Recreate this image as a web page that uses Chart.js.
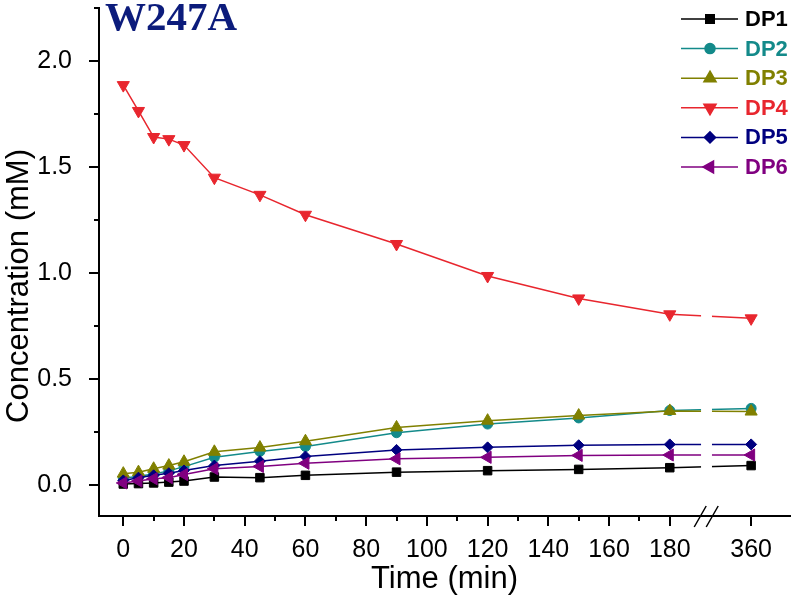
<!DOCTYPE html>
<html>
<head>
<meta charset="utf-8">
<title>W247A</title>
<script src="https://cdn.jsdelivr.net/npm/chart.js"></script>
<style>
  html, body { margin: 0; padding: 0; background: #fff; }
  canvas { display: block; }
</style>
</head>
<body>
<canvas id="chart" width="798" height="609"></canvas>
<script>
// sampling times (min)
const timeMin = [0, 5, 10, 15, 20, 30, 45, 60, 90, 120, 150, 180, 360];

// concentrations (mM)
const dp1 = [0.003, 0.005, 0.008, 0.012, 0.017, 0.036, 0.033, 0.044, 0.059, 0.066, 0.072, 0.080, 0.090];
const dp2 = [0.030, 0.040, 0.050, 0.065, 0.085, 0.129, 0.157, 0.180, 0.245, 0.286, 0.315, 0.350, 0.360];
const dp3 = [0.052, 0.059, 0.075, 0.090, 0.108, 0.155, 0.175, 0.205, 0.270, 0.302, 0.326, 0.348, 0.345];
const dp4 = [1.886, 1.764, 1.641, 1.631, 1.603, 1.449, 1.368, 1.274, 1.136, 0.985, 0.879, 0.804, 0.785];
const dp5 = [0.020, 0.033, 0.044, 0.054, 0.067, 0.090, 0.111, 0.133, 0.164, 0.176, 0.186, 0.190, 0.190];
const dp6 = [0.008, 0.017, 0.028, 0.033, 0.048, 0.075, 0.086, 0.101, 0.122, 0.129, 0.138, 0.140, 0.140];

const seriesNames = ['DP1', 'DP2', 'DP3', 'DP4', 'DP5', 'DP6'];
const seriesValues = [dp1, dp2, dp3, dp4, dp5, dp6];
const seriesColors = ['#000000', '#138a8a', '#808000', '#e8262e', '#00007f', '#800080'];
const markerStyles = ['rect', 'circle', 'triangle', 'triangle', 'rectRot', 'triangle'];
const markerRotation = [0, 0, 0, 180, 0, -90];
const markerRadius = [6, 5, 7, 7, 5.5, 7];

const xTickLabels = [0, 20, 40, 60, 80, 100, 120, 140, 160, 180, 360];
const yTickLabels = [0, 0.5, 1.0, 1.5, 2.0];

// the time axis is broken after 180 min, 360 sits just past the break
const BREAK_AT = 180;
const AFTER_BREAK = 26.8 / 180;
function axisX(t) {
    return t <= BREAK_AT ? t : BREAK_AT + (t - BREAK_AT) * AFTER_BREAK;
}

const FONT = '"Liberation Sans", Arial, sans-serif';

const decor = {
    id: 'decor',
    afterDatasetsDraw(chart) {
        // gap in the curves where the axis is broken
        const {ctx, chartArea, scales: {x}} = chart;
        const a = x.getPixelForValue(190.3);
        const b = x.getPixelForValue(193.9);
        ctx.save();
        ctx.fillStyle = '#fff';
        ctx.fillRect(a, chartArea.top, b - a, chartArea.bottom - chartArea.top - 2);
        ctx.restore();
    },
    afterDraw(chart) {
        const {ctx, chartArea, scales: {x, y}} = chart;
        ctx.save();
        ctx.strokeStyle = '#000';
        ctx.lineWidth = 2;
        ctx.beginPath();
        // x ticks, major every 20, minor every 10
        for (let k = 0; k <= 18; k++) {
            const px = Math.round(x.getPixelForValue(k * 10));
            const len = k % 2 === 0 ? 10 : 5;
            ctx.moveTo(px, chartArea.bottom);
            ctx.lineTo(px, chartArea.bottom + len);
        }
        const p360 = Math.round(x.getPixelForValue(axisX(360)));
        ctx.moveTo(p360, chartArea.bottom);
        ctx.lineTo(p360, chartArea.bottom + 10);
        // y ticks, major every 0.5, minor every 0.25
        for (let k = 0; k <= 9; k++) {
            const py = Math.round(y.getPixelForValue(k * 0.25));
            const len = k % 2 === 0 ? 10 : 5;
            ctx.moveTo(chartArea.left, py);
            ctx.lineTo(chartArea.left - len, py);
        }
        ctx.stroke();

        // break marks
        ctx.lineWidth = 1.5;
        ctx.beginPath();
        const bx = x.getPixelForValue(192);
        [-6, 6].forEach(d => {
            ctx.moveTo(bx + d - 6, chartArea.bottom + 11);
            ctx.lineTo(bx + d + 6, chartArea.bottom - 10);
        });
        ctx.stroke();

        // axis titles
        ctx.fillStyle = '#000';
        ctx.font = '31px ' + FONT;
        ctx.textAlign = 'center';
        ctx.textBaseline = 'middle';
        ctx.fillText('Time (min)', (chartArea.left + chartArea.right) / 2, 579);
        ctx.save();
        ctx.translate(19, 286);
        ctx.rotate(-Math.PI / 2);
        ctx.fillText('Concentration (mM)', 0, 0);
        ctx.restore();

        // panel label
        ctx.font = 'bold 41px "Liberation Serif", "Times New Roman", serif';
        ctx.fillStyle = '#0c1c7c';
        ctx.textAlign = 'left';
        ctx.textBaseline = 'alphabetic';
        ctx.fillText('W247A', 105, 30);

        // legend
        ctx.font = 'bold 22px ' + FONT;
        ctx.textBaseline = 'middle';
        seriesNames.forEach((name, i) => {
            const ly = 19 + i * 29.6;
            const c = seriesColors[i];
            ctx.strokeStyle = c;
            ctx.fillStyle = c;
            ctx.lineWidth = 1.5;
            ctx.beginPath();
            ctx.moveTo(681, ly);
            ctx.lineTo(738, ly);
            ctx.stroke();
            Chart.helpers.drawPoint(ctx, {
                pointStyle: markerStyles[i],
                radius: markerRadius[i],
                rotation: markerRotation[i],
                borderWidth: 1
            }, 710, ly);
            ctx.fillStyle = c;
            ctx.fillText(name, 745, ly + 1);
        });
        ctx.restore();
    }
};

const datasets = seriesNames.map((name, i) => ({
    label: name,
    data: seriesValues[i].map((v, j) => ({x: axisX(timeMin[j]), y: v})),
    borderColor: seriesColors[i],
    backgroundColor: seriesColors[i],
    borderWidth: 1.5,
    pointStyle: markerStyles[i],
    pointRotation: markerRotation[i],
    pointRadius: markerRadius[i],
    pointBorderWidth: 1,
    tension: 0,
    order: seriesNames.length - i
}));

new Chart(
    document.getElementById('chart'),
    {
        type: 'line',
        data: {datasets: datasets},
        options: {
            responsive: false,
            animation: false,
            layout: {padding: {top: 4, right: 1, left: 0, bottom: 0}},
            plugins: {
                legend: {display: false},
                tooltip: {enabled: false}
            },
            scales: {
                x: {
                    type: 'linear',
                    min: -8,
                    max: 219.6,
                    grid: {display: false},
                    border: {display: true, color: '#000', width: 2},
                    afterFit: scale => {
                        scale.height = 93;
                        scale.paddingLeft = 0;
                        scale.paddingRight = 0;
                    },
                    afterBuildTicks: scale => {
                        scale.ticks = xTickLabels.map(t => ({value: axisX(t)}));
                    },
                    ticks: {
                        autoSkip: false,
                        maxRotation: 0,
                        padding: 11,
                        color: '#000',
                        font: {family: FONT, size: 25},
                        callback: (value, index) => String(xTickLabels[index])
                    }
                },
                y: {
                    type: 'linear',
                    min: -0.148,
                    max: 2.25,
                    grid: {display: false},
                    border: {display: true, color: '#000', width: 2},
                    afterFit: scale => {
                        scale.width = 99;
                        scale.paddingTop = 0;
                        scale.paddingBottom = 0;
                    },
                    afterBuildTicks: scale => {
                        scale.ticks = yTickLabels.map(v => ({value: v}));
                    },
                    ticks: {
                        padding: 19,
                        color: '#000',
                        font: {family: FONT, size: 25},
                        callback: value => value.toFixed(1)
                    }
                }
            }
        },
        plugins: [decor]
    }
);
</script>
</body>
</html>
